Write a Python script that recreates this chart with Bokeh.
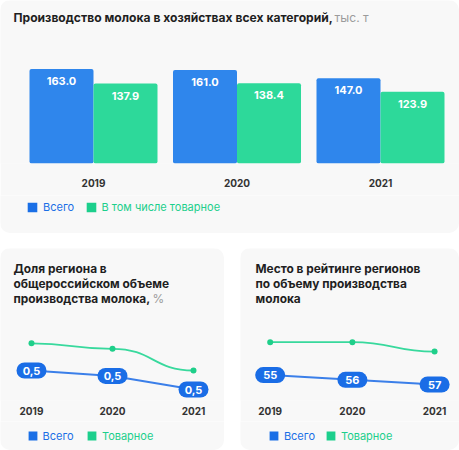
from bokeh.plotting import figure
from bokeh.models import (ColumnDataSource, Range1d, Label, LabelSet, Legend,
                          LegendItem, FixedTicker)
from bokeh.layouts import column, row
from bokeh.transform import dodge
from bokeh.core.properties import value
from bokeh.embed import file_html
from bokeh.resources import INLINE

# ---------------- data ----------------
years = [2019, 2020, 2021]
year_labels = ["2019", "2020", "2021"]
milk_total = [163.0, 161.0, 147.0]
milk_market = [137.9, 138.4, 123.9]
share_total = [0.54, 0.52, 0.47]
share_market = [0.64, 0.62, 0.54]
rank_total = [55, 56, 57]
rank_market = [48, 48, 50]

title_top = "Производство молока в хозяйствах всех категорий,"
unit_top = "тыс. т"
title_share = ["Доля региона в", "общероссийском объеме", "производства молока,"]
unit_share = "%"
title_rank = ["Место в рейтинге регионов", "по объему производства", "молока"]
legend_top = ["Всего", "В том числе товарное"]
legend_bottom = ["Всего", "Товарное"]

# ---------------- style ----------------
FONT = "Inter"
CARD = "#f8f8f8"
DARK = "#1f1f1f"
GRAY = "#9b9b9b"
BAR_BLUE = "#2f86ec"
BAR_GREEN = "#2dd99a"
LEG_BLUE = "#1a6fe6"
LEG_GREEN = "#1ccf8c"
LINE_BLUE = "#3b7fe9"
BUBBLE = "#1a6de6"
LINE_GREEN = "#38d99d"
DOT_GREEN = "#1fcf8a"
CARD_STYLE = {"border-radius": "10px", "overflow": "hidden"}
NAN = float("nan")


def base_fig(width, height, xr, yr, bottom):
    p = figure(width=width, height=height, output_backend="svg", toolbar_location=None,
               x_range=xr, y_range=yr, y_axis_location=None,
               min_border_left=0, min_border_right=0, min_border_top=0,
               min_border_bottom=bottom,
               background_fill_color=CARD, border_fill_color=CARD,
               outline_line_color=None)
    p.xgrid.grid_line_color = None
    p.ygrid.grid_line_color = None
    ax = p.xaxis[0]
    ax.ticker = FixedTicker(ticks=years)
    ax.major_label_overrides = {y: s for y, s in zip(years, year_labels)}
    ax.axis_line_color = None
    ax.major_tick_line_color = None
    ax.minor_tick_line_color = None
    ax.major_tick_out = 0
    ax.major_tick_in = 0
    ax.major_label_text_font = FONT
    ax.major_label_text_font_size = "10px"
    ax.major_label_text_font_style = "bold"
    ax.major_label_text_color = "#333333"
    return p


def legend_fig(width, height, entries, sq, standoff, y):
    p = figure(width=width, height=height, output_backend="svg", toolbar_location=None,
               x_range=Range1d(0, 1), y_range=Range1d(0, 1),
               x_axis_location=None, y_axis_location=None,
               min_border_left=0, min_border_right=0, min_border_top=0,
               min_border_bottom=0,
               background_fill_color=CARD, border_fill_color=CARD,
               outline_line_color=None)
    p.xgrid.grid_line_color = None
    p.ygrid.grid_line_color = None
    for label, color, x in entries:
        # legend swatch only (no visible mark: NaN coordinates)
        r = p.quad(left=[NAN], right=[NAN], top=[NAN], bottom=[NAN], fill_color=color,
                   line_color=None, border_radius=2)
        leg = Legend(items=[LegendItem(label=label, renderers=[r])], location=(x, y),
                     orientation="horizontal", glyph_width=sq, glyph_height=sq,
                     label_standoff=standoff, label_height=sq, padding=0, margin=0,
                     border_line_color=None, background_fill_alpha=0,
                     label_text_color=color, label_text_font=FONT,
                     label_text_font_size="11px", label_text_font_style="normal")
        p.add_layout(leg, "center")
    return p


def add_text(p, x, y, text, color=DARK, size="12.1px", style="bold"):
    p.add_layout(Label(x=x, y=y, x_units="screen", y_units="screen", text=text,
                       text_font=FONT, text_font_size=size, text_font_style=style,
                       text_color=color, text_baseline="middle", text_align="left"))


# ---------------- top bar chart ----------------
W = 0.446
top = base_fig(459, 195, Range1d(2018.3519, 2021.5505), Range1d(0, 281.0), 32)
top.xaxis[0].major_label_standoff = 15
src = ColumnDataSource(dict(year=years, total=milk_total, market=milk_market,
                            total_txt=[f"{v:.1f}" for v in milk_total],
                            market_txt=[f"{v:.1f}" for v in milk_market]))
top.vbar(x=dodge("year", -W / 2), top="total", width=W, source=src,
         fill_color=BAR_BLUE, line_color=None, border_radius=2)
top.vbar(x=dodge("year", W / 2), top="market", width=W, source=src,
         fill_color=BAR_GREEN, line_color=None, border_radius=2)
for fld, txt, off in (("total", "total_txt", -W / 2), ("market", "market_txt", W / 2)):
    top.add_layout(LabelSet(x=dodge("year", off), y=fld, text=txt, source=src,
                            y_offset=-12, text_align="center", text_baseline="middle",
                            text_color="white", text_font=value(FONT),
                            text_font_size="11px", text_font_style="bold"))
add_text(top, 13, 146.3, title_top)
add_text(top, 334, 146.3, unit_top, color=GRAY, style="normal")
top_leg = legend_fig(459, 38, [(legend_top[0], LEG_BLUE, 26.1),
                               (legend_top[1], LEG_GREEN, 84.5)], 12, 5, 19)
top_card = column(top, top_leg, spacing=0, styles=CARD_STYLE)


# ---------------- line charts ----------------
def line_chart(width, xr, yr, tot, mkt, labels, title, unit, tx, unit_x, leg_x):
    p = base_fig(width, 173, xr, yr, 21)
    p.xaxis[0].major_label_standoff = 6
    s = ColumnDataSource(dict(year=years, tot=tot, mkt=mkt, lab=labels))
    p.line("year", "tot", source=s, line_color=LINE_BLUE, line_width=2)
    p.bezier(x0=years[:-1], y0=mkt[:-1], x1=years[1:], y1=mkt[1:],
             cx0=[(a + b) / 2 for a, b in zip(years[:-1], years[1:])], cy0=mkt[:-1],
             cx1=[(a + b) / 2 for a, b in zip(years[:-1], years[1:])], cy1=mkt[1:],
             line_color=LINE_GREEN, line_width=1.8)
    p.scatter("year", "mkt", source=s, size=6, marker="circle",
              fill_color=DOT_GREEN, line_color=None)
    p.rect("year", "tot", source=s, width=30, height=16, width_units="screen",
           height_units="screen", border_radius=8, fill_color=BUBBLE, line_color=None)
    p.add_layout(LabelSet(x="year", y="tot", text="lab", source=s,
                          text_align="center", text_baseline="middle",
                          text_color="white", text_font=value(FONT),
                          text_font_size="11px", text_font_style="bold"))
    for i, line in enumerate(title):
        add_text(p, tx, 132.3 - 15.2 * i, line, size="11.9px")
    if unit:
        add_text(p, unit_x, 132.3 - 15.2 * (len(title) - 1), unit, color=GRAY,
                 size="11.9px", style="normal")
    leg = legend_fig(width, 29, [(legend_bottom[0], LEG_BLUE, leg_x[0]),
                                 (legend_bottom[1], LEG_GREEN, leg_x[1])], 11, 5, 7.4)
    return column(p, leg, spacing=0, styles=CARD_STYLE)


left = line_chart(224, Range1d(2018.6173, 2021.3827), Range1d(0.4295, 0.9895),
                  share_total, share_market,
                  [f"{v:.1f}".replace(".", ",") for v in share_total],
                  title_share, unit_share, 13, 152, (26.6, 85.9))
right = line_chart(219, Range1d(2018.639, 2021.303), Range1d(60.4, 28.06),
                   rank_total, rank_market, [str(v) for v in rank_total],
                   title_rank, None, 15, 0, (27.9, 84.9))

layout = column(top_card, row(left, right, spacing=16), spacing=15)
open("out.html", "w").write(file_html(layout, INLINE))
